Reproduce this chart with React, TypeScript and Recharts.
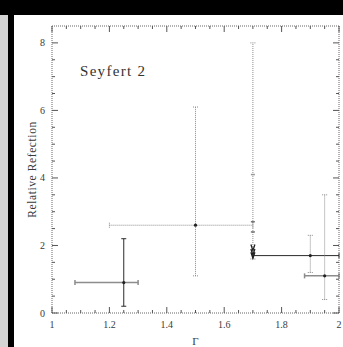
import { ErrorBar, Scatter, ScatterChart, XAxis, YAxis } from "recharts";

// photon index and relative reflection, with error ranges
const gamma = [1.25, 1.5, 1.7, 1.9, 1.95];
const reflection = [0.9, 2.6, 4.1, 1.7, 1.1];
const gammaLow = [1.08, 1.2, 1.7, 1.7, 1.88];
const gammaHigh = [1.3, 1.7, 1.7, 2.0, 2.0];
const reflLow = [0.2, 1.1, 1.6, 1.2, 0.4];
const reflHigh = [2.2, 6.1, 8.0, 2.3, 3.5];

// upper limits stacked at gamma = 1.7
const limitGamma = [1.7, 1.7];
const limitRefl = [2.7, 2.4];
const arrowGamma = [1.7, 1.7, 1.7];
const arrowTips = [1.85, 1.72, 1.62];

const xTicks = [
  1, 1.05, 1.1, 1.15, 1.2, 1.25, 1.3, 1.35, 1.4, 1.45, 1.5, 1.55, 1.6, 1.65,
  1.7, 1.75, 1.8, 1.85, 1.9, 1.95, 2,
];
const yTicks = [
  0, 0.5, 1, 1.5, 2, 2.5, 3, 3.5, 4, 4.5, 5, 5.5, 6, 6.5, 7, 7.5, 8, 8.5,
];

const W = 343;
const H = 347;
const FONT = "'Liberation Serif', 'DejaVu Serif', serif";
const INK = "#3a3a3a";

const solidDark = { stroke: "#2a2a2a", strokeWidth: 1 };
const solidGray = { stroke: "#8c8c8c", strokeWidth: 1.5 };
const dotGray = { stroke: "#8c8c8c", strokeWidth: 1, strokeDasharray: "1 1" };

// per point: style for the x bar and the y bar (null = no bar), and marker
const barStyles = [
  { x: solidGray, y: solidDark, mark: "dot" },
  { x: dotGray, y: dotGray, mark: "dot" },
  { x: null, y: dotGray, mark: "tick" },
  { x: solidDark, y: dotGray, mark: "dot" },
  { x: solidGray, y: dotGray, mark: "dot" },
];

const points = gamma.map((g, i) => ({
  g,
  r: reflection[i],
  ex: [g - gammaLow[i], gammaHigh[i] - g],
  ey: [reflection[i] - reflLow[i], reflHigh[i] - reflection[i]],
}));
const limits = limitGamma.map((g, i) => ({ g, r: limitRefl[i] }));
const arrows = arrowGamma.map((g, i) => ({ g, r: arrowTips[i] }));

const near = (v: number, step: number) =>
  Math.abs(v / step - Math.round(v / step)) < 1e-6;
const fmt = (v: number) => String(Math.round(v * 10) / 10);

function BottomTick({ x, y, payload }: any) {
  const major = near(payload.value, 0.2);
  return (
    <g>
      <line x1={x} y1={y} x2={x} y2={y - (major ? 6 : 3)} stroke="#555" />
      {major && (
        <text x={x} y={y + 15} textAnchor="middle" fontSize={10} fill={INK} fontFamily={FONT}>
          {fmt(payload.value)}
        </text>
      )}
    </g>
  );
}

function TopTick({ x, y, payload }: any) {
  const major = near(payload.value, 0.2);
  return <line x1={x} y1={y} x2={x} y2={y + (major ? 6 : 3)} stroke="#555" />;
}

function LeftTick({ x, y, payload }: any) {
  const major = near(payload.value, 2);
  if (payload.value > 8) return <g />;
  return (
    <g>
      <line x1={x} y1={y} x2={x + (major ? 6 : 3)} y2={y} stroke="#555" />
      {major && (
        <text x={x - 7} y={y + 3.5} textAnchor="end" fontSize={10} fill={INK} fontFamily={FONT}>
          {fmt(payload.value)}
        </text>
      )}
    </g>
  );
}

function RightTick({ x, y, payload }: any) {
  const major = near(payload.value, 2);
  if (payload.value > 8) return <g />;
  return <line x1={x} y1={y} x2={x - (major ? 6 : 3)} y2={y} stroke="#555" />;
}

const Dot = ({ cx, cy }: any) => <circle cx={cx} cy={cy} r={1.6} fill="#222" />;
const GrayTick = ({ cx, cy }: any) => (
  <line x1={cx - 2} y1={cy} x2={cx + 2} y2={cy} stroke="#999" strokeWidth={1.5} />
);
const LimitMark = ({ cx, cy }: any) => (
  <line x1={cx - 2} y1={cy} x2={cx + 2} y2={cy} stroke="#333" strokeWidth={1} />
);
const ArrowHead = ({ cx, cy }: any) => (
  <path
    d={`M${cx - 2},${cy - 6} L${cx},${cy} L${cx + 2},${cy - 6}`}
    stroke="#222"
    strokeWidth={1.3}
    fill="none"
  />
);
const Nothing = () => <g />;

const frame = { stroke: "#666", strokeDasharray: "1 1" };

export default function App() {
  return (
    <div
      style={{
        position: "absolute",
        left: 0,
        top: 0,
        width: W,
        height: H,
        background: "#fff",
        overflow: "hidden",
      }}
    >
      <div style={{ position: "absolute", left: 0, top: 0, width: W, height: 15, background: "#000" }} />
      <div style={{ position: "absolute", left: 0, top: 15, width: 8, height: H - 15, background: "#d4d4d4" }} />
      <div style={{ position: "absolute", left: 8, top: 15, width: 6, height: H - 15, background: "#000" }} />
      <ScatterChart
        width={W}
        height={H}
        margin={{ top: 25, right: 3, bottom: 4, left: 12 }}
        style={{ position: "absolute", left: 0, top: 0 }}
      >
        <XAxis
          type="number"
          dataKey="g"
          domain={[1, 2]}
          ticks={xTicks}
          interval={0}
          allowDataOverflow
          height={30}
          axisLine={frame}
          tickLine={false}
          tickSize={0}
          tickMargin={0}
          tick={<BottomTick />}
          label={{ value: "Γ", position: "insideBottom", offset: -2, fontSize: 11, fill: INK, fontFamily: FONT }}
        />
        <XAxis
          xAxisId="top"
          orientation="top"
          type="number"
          dataKey="g"
          domain={[1, 2]}
          ticks={xTicks}
          interval={0}
          allowDataOverflow
          height={1}
          axisLine={frame}
          tickLine={false}
          tickSize={0}
          tickMargin={0}
          tick={<TopTick />}
        />
        <YAxis
          type="number"
          dataKey="r"
          domain={[0, 8.5]}
          ticks={yTicks}
          interval={0}
          allowDataOverflow
          width={40}
          axisLine={frame}
          tickLine={false}
          tickSize={0}
          tickMargin={0}
          tick={<LeftTick />}
          label={{
            value: "Relative Refection",
            angle: -90,
            position: "insideLeft",
            offset: 20,
            fontSize: 11.5,
            fill: INK,
            fontFamily: FONT,
            style: { textAnchor: "middle", letterSpacing: 0.6 },
          }}
        />
        <YAxis
          yAxisId="right"
          orientation="right"
          type="number"
          dataKey="r"
          domain={[0, 8.5]}
          ticks={yTicks}
          interval={0}
          allowDataOverflow
          width={1}
          axisLine={frame}
          tickLine={false}
          tickSize={0}
          tickMargin={0}
          tick={<RightTick />}
        />
        {/* carries the top and right frame axes */}
        <Scatter
          data={points}
          dataKey="r"
          xAxisId="top"
          yAxisId="right"
          shape={Nothing}
          isAnimationActive={false}
        />
        {points.map((p, i) => (
          <Scatter
            key={i}
            data={[p]}
            dataKey="r"
            shape={barStyles[i].mark === "dot" ? Dot : GrayTick}
            isAnimationActive={false}
          >
            {barStyles[i].x && (
              <ErrorBar dataKey="ex" direction="x" width={2.5} {...barStyles[i].x} isAnimationActive={false} />
            )}
            <ErrorBar dataKey="ey" direction="y" width={2.5} {...barStyles[i].y} isAnimationActive={false} />
          </Scatter>
        ))}
        <Scatter data={limits} dataKey="r" shape={LimitMark} isAnimationActive={false} />
        <Scatter data={arrows} dataKey="r" shape={ArrowHead} isAnimationActive={false} />
      </ScatterChart>
      <div
        style={{
          position: "absolute",
          left: 80,
          top: 63,
          fontFamily: FONT,
          fontSize: 15,
          letterSpacing: 1.3,
          color: "#333",
          whiteSpace: "nowrap",
        }}
      >
        Seyfert 2
      </div>
    </div>
  );
}
